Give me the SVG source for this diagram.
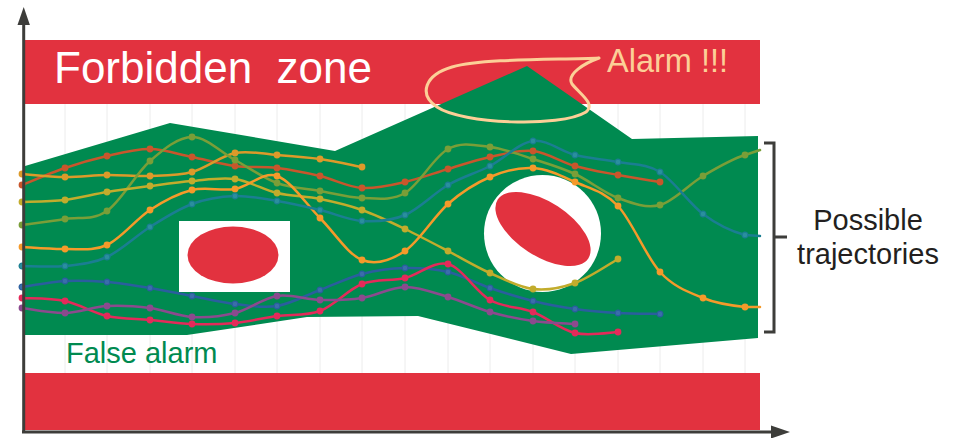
<svg xmlns="http://www.w3.org/2000/svg" width="960" height="438" viewBox="0 0 960 438">
<style>
.lbl{font-family:"Liberation Sans",Arial,sans-serif}
.grid line{stroke:#ececec;stroke-width:1}
.traj{fill:none;stroke-width:2.5;stroke-linecap:round;stroke-linejoin:round}
.axis{stroke:#3d3d3a;stroke-width:3;fill:none}
</style>
<defs>
<marker id="mA" viewBox="-5 -5 10 10" markerWidth="10" markerHeight="10" markerUnits="userSpaceOnUse"><circle r="3.4" fill="#c8562c"/></marker>
<marker id="mB" viewBox="-5 -5 10 10" markerWidth="10" markerHeight="10" markerUnits="userSpaceOnUse"><circle r="3.4" fill="#dc9a2a"/></marker>
<marker id="mC" viewBox="-5 -5 10 10" markerWidth="10" markerHeight="10" markerUnits="userSpaceOnUse"><circle r="3.4" fill="#7a9e38"/></marker>
<marker id="mD" viewBox="-5 -5 10 10" markerWidth="10" markerHeight="10" markerUnits="userSpaceOnUse"><circle r="3.4" fill="#c2ac2c"/></marker>
<marker id="mE" viewBox="-5 -5 10 10" markerWidth="10" markerHeight="10" markerUnits="userSpaceOnUse"><circle r="3.4" fill="#f59a2a"/></marker>
<marker id="mF" viewBox="-5 -5 10 10" markerWidth="10" markerHeight="10" markerUnits="userSpaceOnUse"><circle r="2.9" fill="#2a8f9e" stroke="#1a7e92" stroke-width="1.2"/></marker>
<marker id="mG" viewBox="-5 -5 10 10" markerWidth="10" markerHeight="10" markerUnits="userSpaceOnUse"><circle r="2.9" fill="#3a6eaa" stroke="#2a5e9e" stroke-width="1.2"/></marker>
<marker id="mH" viewBox="-5 -5 10 10" markerWidth="10" markerHeight="10" markerUnits="userSpaceOnUse"><circle r="3.4" fill="#e42a5a"/></marker>
<marker id="mI" viewBox="-5 -5 10 10" markerWidth="10" markerHeight="10" markerUnits="userSpaceOnUse"><circle r="3.4" fill="#8c4a8e"/></marker>
</defs>
<rect width="960" height="438" fill="#ffffff"/>
<g class="grid">
<line x1="65" y1="40" x2="65" y2="430"/><line x1="107" y1="40" x2="107" y2="430"/><line x1="150" y1="40" x2="150" y2="430"/><line x1="192" y1="40" x2="192" y2="430"/><line x1="235" y1="40" x2="235" y2="430"/><line x1="277" y1="40" x2="277" y2="430"/><line x1="320" y1="40" x2="320" y2="430"/><line x1="362" y1="40" x2="362" y2="430"/><line x1="405" y1="40" x2="405" y2="430"/><line x1="448" y1="40" x2="448" y2="430"/><line x1="490" y1="40" x2="490" y2="430"/><line x1="533" y1="40" x2="533" y2="430"/><line x1="575" y1="40" x2="575" y2="430"/><line x1="618" y1="40" x2="618" y2="430"/><line x1="660" y1="40" x2="660" y2="430"/><line x1="703" y1="40" x2="703" y2="430"/><line x1="745" y1="40" x2="745" y2="430"/>
</g>
<g id="forbidden-top"><rect x="25" y="40" width="735" height="64" fill="#e2323f"/></g>
<g id="forbidden-bottom"><rect x="25" y="373" width="735" height="57" fill="#e2323f"/></g>
<g id="envelope"><polygon points="25,166 170,123 335,151 527,66 632,139 758,136 758,338 571,354 418,316 307,317 187,335 25,335" fill="#008a50"/></g>
<g id="obstacle1"><rect x="179" y="221" width="111" height="71" fill="#ffffff"/><ellipse cx="233" cy="255" rx="45.5" ry="28.5" fill="#e2323f"/></g>
<g id="obstacle2"><circle cx="542.5" cy="233.5" r="58.5" fill="#ffffff"/><ellipse cx="0" cy="0" rx="54" ry="27" fill="#e2323f" transform="translate(543 229) rotate(33)"/></g>
<g id="trajectories">
<path class="traj" stroke="#c8562c" marker-start="url(#mA)" marker-mid="url(#mA)" marker-end="url(#mA)" d="M22,185 C29,182.2 51,172.8 65,168 S93,159.2 107,156 S136,148.8 150,149 S178,154.2 192,157 S221,164.2 235,166 S263,166.3 277,168 S306,172.7 320,176 S348,187 362,188 S391,185.2 405,182 S434,173.2 448,169 S476,160 490,157 S519,149.5 533,151 S561,162 575,166 S604,172.3 618,175 S653,180.8 660,182"/>
<path class="traj" stroke="#dc9a2a" marker-start="url(#mB)" marker-mid="url(#mB)" marker-end="url(#mB)" d="M22,174 C29,174.5 51,176.8 65,177 S93,175.2 107,175 S136,176.5 150,176 S178,175.8 192,172 S221,155.8 235,153 S263,154 277,155 S306,157 320,159 S355,165.7 362,167"/>
<path class="traj" stroke="#7a9e38" marker-start="url(#mC)" marker-mid="url(#mC)" d="M22,225 C29,224 51,221.3 65,219 S93,220.7 107,211 S136,173.3 150,161 S178,137.2 192,137 S221,152.3 235,160 S263,177.8 277,183 S306,188.5 320,191 S348,197.7 362,198 S391,201.2 405,193 S434,156.7 448,149 S476,145.3 490,147 S519,154.5 533,159 S561,167.5 575,174 S604,192.8 618,198 S646,208.7 660,205 S689,184.3 703,176 S731,159.3 745,155 L760,150"/>
<path class="traj" stroke="#c2ac2c" marker-start="url(#mD)" marker-mid="url(#mD)" marker-end="url(#mD)" d="M22,202 C29,201.7 51,201.7 65,200 S93,194.3 107,192 S136,187.8 150,186 S178,182.2 192,181 S221,177 235,179 S263,189.7 277,193 S306,196.2 320,199 S348,205 362,210 S391,222.2 405,229 S434,243.7 448,251 S476,266.7 490,273 S519,287.3 533,289 S561,288 575,283 S611,263 618,259"/>
<path class="traj" stroke="#f59a2a" marker-start="url(#mE)" marker-mid="url(#mE)" d="M22,247 C29,247.3 51,249.3 65,249 S93,251.5 107,245 S136,219.2 150,210 S178,193.5 192,190 S221,191.3 235,189 S263,171.2 277,176 S306,204 320,218 S348,254.5 362,260 S391,260.3 405,251 S434,216.3 448,204 S476,183 490,177 S519,167.2 533,168 S561,175.7 575,182 S604,191 618,206 S646,256.7 660,272 S689,292.2 703,298 S731,305.5 745,307 L760,307"/>
<path class="traj" stroke="#1a7e92" marker-start="url(#mF)" marker-mid="url(#mF)" d="M22,266 C29,266 51,267.5 65,266 S93,263.5 107,257 S136,235.8 150,227 S178,209.2 192,204 S221,196.5 235,196 S263,198.7 277,201 S306,206.7 320,210 S348,220.2 362,221 S391,221 405,215 S434,193.2 448,185 S476,173.3 490,166 S519,142.8 533,141 S561,151.5 575,155 S604,159.2 618,162 S646,163.3 660,172 S689,203.5 703,214 S731,231.3 745,235 L760,236"/>
<path class="traj" stroke="#2a5e9e" marker-start="url(#mG)" marker-mid="url(#mG)" marker-end="url(#mG)" d="M22,287 C29,286 51,281.8 65,281 S93,280.8 107,282 S136,285.7 150,288 S178,293.3 192,296 S221,302.3 235,304 S263,308.3 277,306 S306,295.3 320,290 S348,277.7 362,274 S391,268.3 405,268 S434,268.7 448,272 S476,283.2 490,288 S519,297.5 533,301 S561,307 575,309 S604,312.2 618,313 S653,313.8 660,314"/>
<path class="traj" stroke="#e42a5a" marker-start="url(#mH)" marker-mid="url(#mH)" marker-end="url(#mH)" d="M22,298 C29,298.5 51,298 65,301 S93,312.8 107,316 S136,318.7 150,320 S178,323.5 192,324 S221,324.3 235,323 S263,318 277,316 S306,316.3 320,311 S348,289.5 362,284 S391,281.3 405,278 S434,260.3 448,264 S476,292 490,300 S519,306.5 533,312 S561,329.7 575,333 S611,332.2 618,332"/>
<path class="traj" stroke="#8c4a8e" marker-start="url(#mI)" marker-mid="url(#mI)" marker-end="url(#mI)" d="M22,308 C29,308.8 51,313.3 65,313 S93,306.8 107,306 S136,306.2 150,308 S178,316.2 192,317 S221,316.5 235,313 S263,298.2 277,296 S306,299.7 320,300 S348,300.2 362,298 S391,287.2 405,287 S434,292.8 448,297 S476,308 490,312 S519,319 533,321 S568,323.5 575,324"/>
</g>
<g id="alarm">
<path d="M599,58 C560,60 485,58 452,67 C425,75 418,94 437,107 C462,124 560,128 586,112 C596,104 580,94 572,84 C566,74 585,63 599,58 Z" fill="none" stroke="#fccf97" stroke-width="3" stroke-linejoin="round"/>
<text class="lbl" x="607" y="72" font-size="32.5" fill="#fccf97">Alarm !!!</text>
</g>
<g id="labels">
<text class="lbl" x="54" y="83" font-size="44" fill="#ffffff" xml:space="preserve" style="white-space:pre">Forbidden  zone</text>
<text class="lbl" x="66" y="363" font-size="29" fill="#008a50">False alarm</text>
</g>
<g id="bracket">
<path class="axis" d="M764,143 H774 V332 H764 M774,237 H787"/>
<text class="lbl" x="868" y="230" font-size="29" fill="#231f20" text-anchor="middle">Possible</text>
<text class="lbl" x="868" y="264" font-size="29" fill="#231f20" text-anchor="middle">trajectories</text>
</g>
<g id="axes">
<line class="axis" x1="23.7" y1="20" x2="23.7" y2="433"/>
<polygon points="23.7,7 17.5,25 29.9,25" fill="#3d3d3a"/>
<line class="axis" x1="22" y1="432" x2="775" y2="432"/>
<polygon points="790,432 771,425.5 771,438.5" fill="#3d3d3a"/>
</g>
</svg>
